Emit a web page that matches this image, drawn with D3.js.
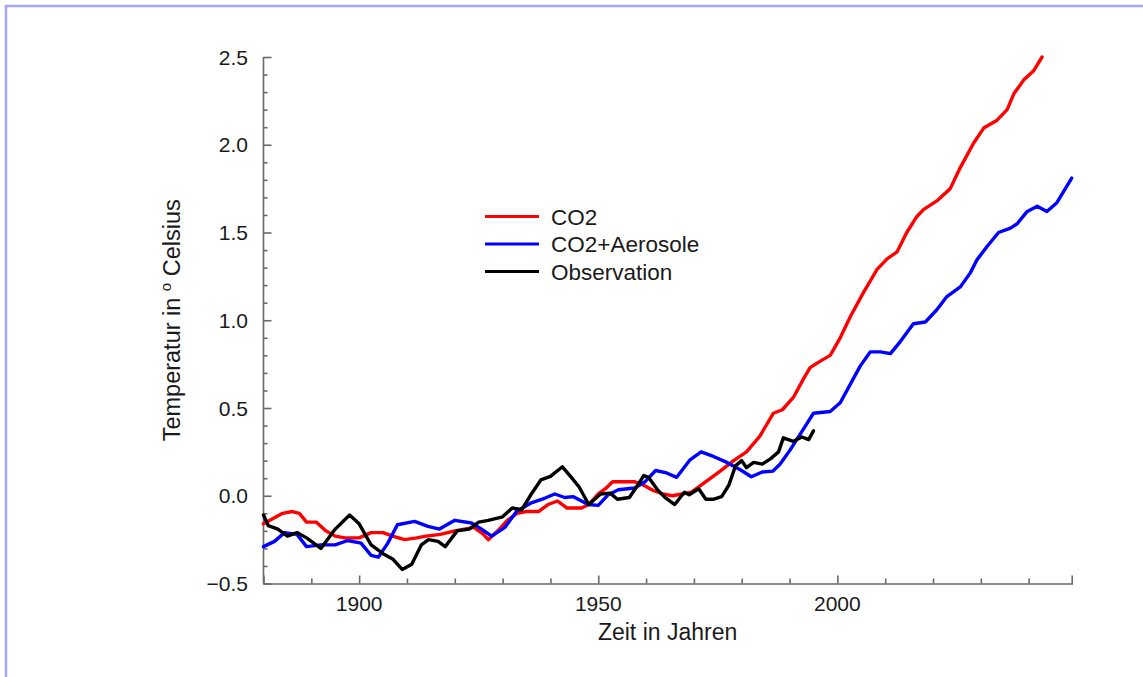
<!DOCTYPE html>
<html>
<head>
<meta charset="utf-8">
<script src="https://cdn.jsdelivr.net/npm/d3@7"></script>
<style>
  html, body { margin: 0; padding: 0; background: #fff; }
  svg { display: block; }
  text { font-family: "Liberation Sans", Arial, Helvetica, sans-serif; fill: #1a1a1a; }
</style>
</head>
<body>
<svg id="chart" width="1143" height="677"></svg>
<script>
// ---- data ----
const co2Years = [1880,1882,1884,1886,1887.5,1889,1891,1893,1895,1897,1900,1902.5,1905,1907,1909.5,1912,1914,1917,1920,1922,1924,1926,1927,1929,1931,1933,1935,1937.5,1939.5,1941.5,1943.5,1946.5,1948,1950,1951.5,1953,1955,1957.5,1959.5,1961.5,1963.5,1965.5,1967.5,1969.5,1972,1975.5,1978.3,1981,1983.8,1986.6,1988.5,1990.8,1993,1994.3,1996,1998.5,2000.6,2002.7,2005.5,2008.3,2010.4,2012.5,2014.5,2016.6,2018,2020.8,2023.6,2025.7,2028.5,2030.6,2033.4,2035.5,2036.9,2039,2041,2042.8];
const co2Values = [-0.16,-0.13,-0.10,-0.09,-0.10,-0.15,-0.15,-0.20,-0.23,-0.24,-0.24,-0.21,-0.21,-0.23,-0.25,-0.24,-0.23,-0.22,-0.20,-0.19,-0.18,-0.22,-0.25,-0.20,-0.14,-0.10,-0.09,-0.09,-0.05,-0.03,-0.07,-0.07,-0.05,0.01,0.04,0.08,0.08,0.08,0.06,0.03,0.01,0.00,0.01,0.02,0.07,0.14,0.20,0.25,0.34,0.47,0.49,0.56,0.67,0.73,0.76,0.80,0.90,1.02,1.16,1.29,1.35,1.39,1.50,1.59,1.63,1.68,1.75,1.87,2.01,2.095,2.14,2.20,2.29,2.37,2.42,2.50];

const aerYears = [1880,1882.3,1884.4,1887,1889,1892,1895,1897.6,1900.4,1902.5,1904,1906,1908,1911.6,1914.4,1916.8,1920,1923.5,1925.6,1927.7,1930.5,1932.9,1936,1938.9,1940.9,1943,1944.8,1947.9,1950,1952.1,1954.2,1957.6,1959.8,1962,1964.3,1966.4,1969.2,1971.5,1974.1,1976.9,1979.7,1982,1984.3,1986.5,1988,1990.1,1992.9,1995,1998.5,2000.6,2003.4,2004.8,2006.9,2009,2011.1,2013.2,2015.9,2018.4,2020.8,2022.9,2025.7,2027.8,2029.2,2031.3,2033.7,2036.2,2037.6,2039.7,2041.8,2043.8,2045.9,2049];
const aerValues = [-0.29,-0.26,-0.21,-0.22,-0.29,-0.28,-0.28,-0.255,-0.27,-0.34,-0.35,-0.27,-0.165,-0.146,-0.175,-0.19,-0.14,-0.155,-0.19,-0.23,-0.18,-0.09,-0.04,-0.013,0.01,-0.01,-0.005,-0.05,-0.055,0.006,0.034,0.044,0.08,0.144,0.13,0.105,0.205,0.25,0.224,0.19,0.148,0.108,0.135,0.14,0.18,0.26,0.38,0.47,0.48,0.53,0.67,0.74,0.82,0.82,0.81,0.88,0.98,0.99,1.06,1.135,1.19,1.27,1.345,1.42,1.50,1.525,1.55,1.62,1.65,1.62,1.67,1.81];

const obsYears = [1880,1881,1883,1885,1887,1889,1892,1895,1898,1900,1902.5,1905,1907,1909,1911,1913,1914.5,1916.5,1918,1920.5,1923,1925,1927,1930,1932,1934,1936,1938,1940,1942.5,1944.5,1946,1948,1950.5,1952.5,1954,1956.5,1958.5,1959.5,1960.5,1962.5,1964,1966,1968,1969,1971,1972.5,1974,1975.8,1977.3,1978.7,1980,1981,1982.5,1984.3,1986,1987.7,1988.7,1990.8,1992.6,1994,1995];
const obsValues = [-0.11,-0.17,-0.19,-0.23,-0.21,-0.24,-0.30,-0.19,-0.11,-0.16,-0.28,-0.33,-0.36,-0.42,-0.39,-0.28,-0.25,-0.26,-0.29,-0.20,-0.19,-0.15,-0.14,-0.12,-0.07,-0.08,0.01,0.09,0.11,0.165,0.10,0.05,-0.05,0.01,0.015,-0.02,-0.01,0.07,0.115,0.105,0.03,-0.01,-0.05,0.02,0.006,0.04,-0.02,-0.02,-0.005,0.06,0.17,0.20,0.16,0.19,0.18,0.21,0.25,0.33,0.31,0.335,0.32,0.37];

const seriesNames = ["CO2", "CO2+Aerosole", "Observation"];
const seriesColors = ["#ff0000", "#0000ff", "#000000"];

const xMajorTicks = [1900, 1950, 2000];
const xMinorTicks = [1890, 1910, 1920, 1930, 1940, 1960, 1970, 1980, 1990, 2010, 2020, 2030, 2040];
const yMajorTicks = [-0.5, 0.0, 0.5, 1.0, 1.5, 2.0, 2.5];

const xTitle = "Zeit in Jahren";

// ---- layout ----
const svg = d3.select("#chart");
const x = d3.scaleLinear().domain([1880, 2049]).range([263.5, 1071.7]);
const y = d3.scaleLinear().domain([-0.5, 2.5]).range([583.5, 57]);

// page frame
svg.append("path")
  .attr("d", "M6,677 L6,6 L1143,6")
  .attr("fill", "none").attr("stroke", "#a6a6fa").attr("stroke-width", 2.5);

const axisColor = "#6a6a6a";
const fmt = d3.format(".1f");

// Y axis (ticks point inward, to the right)
const yMinor = d3.range(-5, 26).map(d => d / 10).filter(v => !yMajorTicks.some(m => Math.abs(m - v) < 1e-9));
const gy = svg.append("g").attr("transform", "translate(263.5,0)");
gy.call(d3.axisRight(y).tickValues(yMajorTicks).tickSize(8).tickFormat(""));
gy.append("g").call(d3.axisRight(y).tickValues(yMinor).tickSize(4).tickFormat("")).select(".domain").remove();
gy.selectAll(".domain").attr("d", `M0,${y(2.5)}V${y(-0.5)}`);
gy.selectAll("line, path").attr("stroke", axisColor).attr("stroke-width", 1.6);

svg.append("g").selectAll("text").data(yMajorTicks).join("text")
  .attr("x", 248).attr("y", d => y(d)).attr("dy", "0.36em")
  .attr("text-anchor", "end").attr("font-size", 21)
  .text(d => fmt(d));

// X axis (ticks point upward)
const gx = svg.append("g").attr("transform", "translate(0,583.5)");
gx.call(d3.axisTop(x).tickValues(xMajorTicks).tickSize(8).tickFormat(""));
gx.append("g").call(d3.axisTop(x).tickValues(xMinorTicks).tickSize(5).tickFormat("")).select(".domain").remove();
gx.selectAll("line, path").attr("stroke", axisColor).attr("stroke-width", 1.6);

svg.append("g").selectAll("text").data(xMajorTicks).join("text")
  .attr("x", d => x(d)).attr("y", 611)
  .attr("text-anchor", "middle").attr("font-size", 21)
  .text(d => d);

// axis titles
svg.append("text")
  .attr("x", (x.range()[0] + x.range()[1]) / 2).attr("y", 640)
  .attr("text-anchor", "middle").attr("font-size", 23)
  .text(xTitle);

const yt = svg.append("text")
  .attr("transform", `translate(180,${(y(2.5) + y(-0.5)) / 2}) rotate(-90)`)
  .attr("text-anchor", "middle").attr("font-size", 23.5);
yt.append("tspan").text("Temperatur in ");
yt.append("tspan").attr("font-size", 15).attr("dy", -9).text("o");
yt.append("tspan").attr("dy", 9).text(" Celsius");

// lines
const line = d3.line().x(d => x(d[0])).y(d => y(d[1]));
const seriesData = [
  d3.zip(co2Years, co2Values),
  d3.zip(aerYears, aerValues),
  d3.zip(obsYears, obsValues)
];
svg.append("g").selectAll("path").data(seriesData).join("path")
  .attr("d", line)
  .attr("fill", "none")
  .attr("stroke", (d, i) => seriesColors[i])
  .attr("stroke-width", 3.4)
  .attr("stroke-linejoin", "round")
  .attr("stroke-linecap", "round");

// legend
const lg = svg.append("g");
seriesNames.forEach((name, i) => {
  const yy = 216.5 + i * 27.5;
  lg.append("line").attr("x1", 485).attr("x2", 539).attr("y1", yy).attr("y2", yy)
    .attr("stroke", seriesColors[i]).attr("stroke-width", 3.2);
  lg.append("text").attr("x", 551).attr("y", yy).attr("dy", "0.36em")
    .attr("font-size", 22.5).text(name);
});
</script>
</body>
</html>
